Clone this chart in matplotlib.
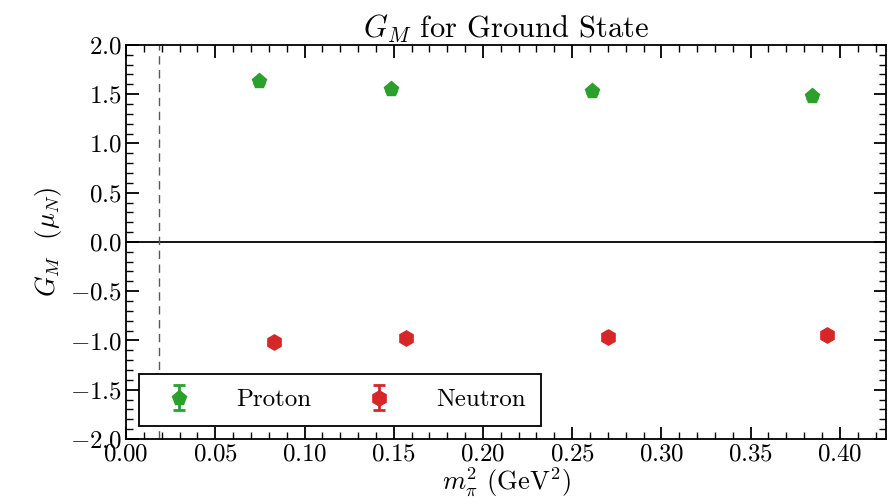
import matplotlib
matplotlib.use('Agg')
import matplotlib.pyplot as plt
import numpy as np

plt.rcParams['font.family'] = 'serif'
plt.rcParams['font.serif'] = ['cmr10']
plt.rcParams['mathtext.fontset'] = 'cm'
plt.rcParams['axes.formatter.use_mathtext'] = True
plt.rcParams['axes.unicode_minus'] = True

# data
mpi2_p = [0.0746, 0.1485, 0.261, 0.3845]
GM_p = [1.633, 1.55, 1.53, 1.48]
err_p = [0.02, 0.02, 0.02, 0.02]
mpi2_n = [0.083, 0.157, 0.270, 0.393]
GM_n = [-1.014, -0.98, -0.965, -0.94]
err_n = [0.02, 0.02, 0.02, 0.02]
mpi2_phys = 0.0187

fig = plt.figure(figsize=(8.88, 5.04), dpi=100)
ax = fig.add_axes([0.142, 0.129, 0.856, 0.782])

ax.axhline(0.0, color='k', linewidth=1.3)
ax.axvline(mpi2_phys, color='0.35', linestyle=(0, (6, 4)), linewidth=1.0)

ax.errorbar(mpi2_p, GM_p, yerr=err_p, fmt='p', color='#2ca02c', markersize=11,
            capsize=4, elinewidth=2, capthick=2, label='Proton')
ax.errorbar(mpi2_n, GM_n, yerr=err_n, fmt='h', color='#d62728', markersize=11,
            capsize=4, elinewidth=2, capthick=2, label='Neutron')

ax.set_xlim(0.0, 0.426)
ax.set_ylim(-2.0, 2.0)
ax.set_xticks(np.arange(0, 0.41, 0.05))
ax.set_xticks(np.arange(0, 0.426, 0.01), minor=True)
ax.set_yticks(np.arange(-2.0, 2.01, 0.5))
ax.set_yticks(np.arange(-2.0, 2.01, 0.1), minor=True)
ax.xaxis.set_major_formatter(matplotlib.ticker.FuncFormatter(lambda v, p: r'$%.2f$' % v))
ax.yaxis.set_major_formatter(matplotlib.ticker.FuncFormatter(lambda v, p: r'$%.1f$' % v))
ax.tick_params(which='both', direction='in', top=True, right=True, labelsize=18)
ax.tick_params(which='major', length=9, width=1.3, pad=3)
ax.tick_params(which='minor', length=5, width=1.0)
for s in ax.spines.values():
    s.set_linewidth(1.3)

ax.set_title(r'$G_M$ for Ground State', fontsize=22, pad=5)
ax.set_xlabel(r'$m_\pi^2$ (GeV$^2$)', fontsize=19, labelpad=0)
ax.set_ylabel(r'$G_M$  ($\mu_N$)', fontsize=19, labelpad=4)

leg = ax.legend(loc='lower left', ncol=2, fontsize=18, frameon=True, fancybox=False,
                edgecolor='k', framealpha=1, columnspacing=1.7, handletextpad=1.3,
                borderaxespad=0.5, handlelength=2.0, borderpad=0.6)
leg.get_frame().set_linewidth(1.3)

fig.savefig('out.png', dpi=100)
